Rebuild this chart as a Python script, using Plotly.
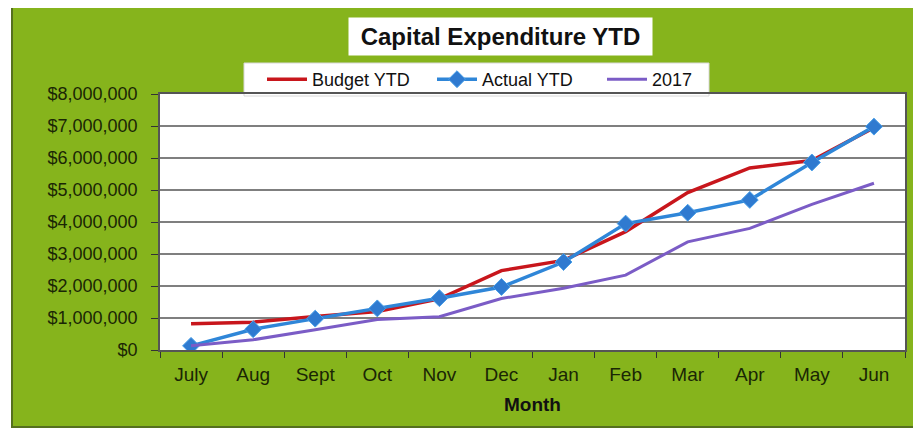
import plotly.graph_objects as go

months = ["July", "Aug", "Sept", "Oct", "Nov", "Dec", "Jan", "Feb", "Mar", "Apr", "May", "Jun"]
budget_ytd = [820000, 870000, 1050000, 1200000, 1600000, 2480000, 2800000, 3700000, 4920000, 5690000, 5920000, 6950000]
actual_ytd = [130000, 650000, 980000, 1300000, 1620000, 1970000, 2750000, 3950000, 4290000, 4690000, 5860000, 6980000]
ytd_2017 = [130000, 320000, 630000, 950000, 1040000, 1610000, 1930000, 2340000, 3380000, 3800000, 4550000, 5210000]

# page has an 8px body margin, so the figure sits at (8, 8)
OFF = 8
W, H = 913, 420
L, T = 152, 86
pw, ph = 745, 256
R, B = W - L - pw, H - T - ph

# helpers: screen pixel -> paper coords
def px(x):
    return (x - OFF - L) / pw

def py(y):
    return (OFF + T + ph - y) / ph

fig = go.Figure()
fig.add_trace(go.Scatter(x=months, y=budget_ytd, name="Budget YTD", mode="lines",
                         line=dict(color="#c8161c", width=3.5)))
fig.add_trace(go.Scatter(x=months, y=actual_ytd, name="Actual YTD", mode="lines+markers",
                         line=dict(color="#2f86d8", width=3.5),
                         marker=dict(symbol="diamond", size=13, color="#2f7ad0",
                                     line=dict(color="#4aa0e8", width=1))))
fig.add_trace(go.Scatter(x=months, y=ytd_2017, name="2017", mode="lines",
                         line=dict(color="#7b5cc6", width=3)))

# green panel, then white plot area on top of it
fig.add_shape(type="rect", xref="paper", yref="paper", layer="below",
              x0=px(12), x1=px(940), y0=py(427), y1=py(3),
              fillcolor="#86b41c", line=dict(color="#55701e", width=2))
fig.add_shape(type="rect", xref="paper", yref="paper", layer="below",
              x0=0, x1=1, y0=0, y1=1, fillcolor="white", line=dict(width=0))
# legend box
fig.add_shape(type="rect", xref="paper", yref="paper", layer="below",
              x0=px(244), x1=px(709), y0=py(96), y1=py(63),
              fillcolor="white", line=dict(color="#d8d8d8", width=1))

fig.add_annotation(text="<b>Capital Expenditure YTD</b>", xref="paper", yref="paper",
                   x=px(500.5), y=py(36.5), xanchor="center", yanchor="middle",
                   showarrow=False, bgcolor="white",
                   font=dict(family="Arial", size=24, color="#111"),
                   width=301, height=35)

fig.update_layout(
    width=W, height=H,
    margin=dict(l=L, r=R, t=T, b=B),
    paper_bgcolor="white",
    plot_bgcolor="white",
    font=dict(family="Arial", size=18, color="#1a2605"),
    showlegend=True,
    legend=dict(orientation="h", x=px(262), xanchor="left", y=py(79.5), yanchor="middle",
                bgcolor="rgba(0,0,0,0)", font=dict(size=18, color="#111"),
                itemwidth=40, entrywidth=115, traceorder="normal"),
)
fig.update_xaxes(
    type="category", range=[-0.5, 11.5], tickson="boundaries",
    ticks="outside", ticklen=6, tickcolor="#333", ticklabelstandoff=6,
    showline=True, linecolor="#555", linewidth=1.5, mirror=True, showgrid=False,
    title=dict(text="<b>Month</b>", font=dict(size=19, color="#111"), standoff=14),
    tickfont=dict(size=19),
)
fig.update_yaxes(
    range=[0, 8000000], dtick=1000000, tickprefix="$", tickformat=",.0f",
    ticks="outside", ticklen=7, tickcolor="#333", ticklabelstandoff=10,
    showline=True, linecolor="#555", linewidth=1.5, mirror=True,
    showgrid=True, gridcolor="#7f7f7f", gridwidth=1.5, zeroline=False,
    tickfont=dict(size=18),
)

fig.write_html("out.html")
